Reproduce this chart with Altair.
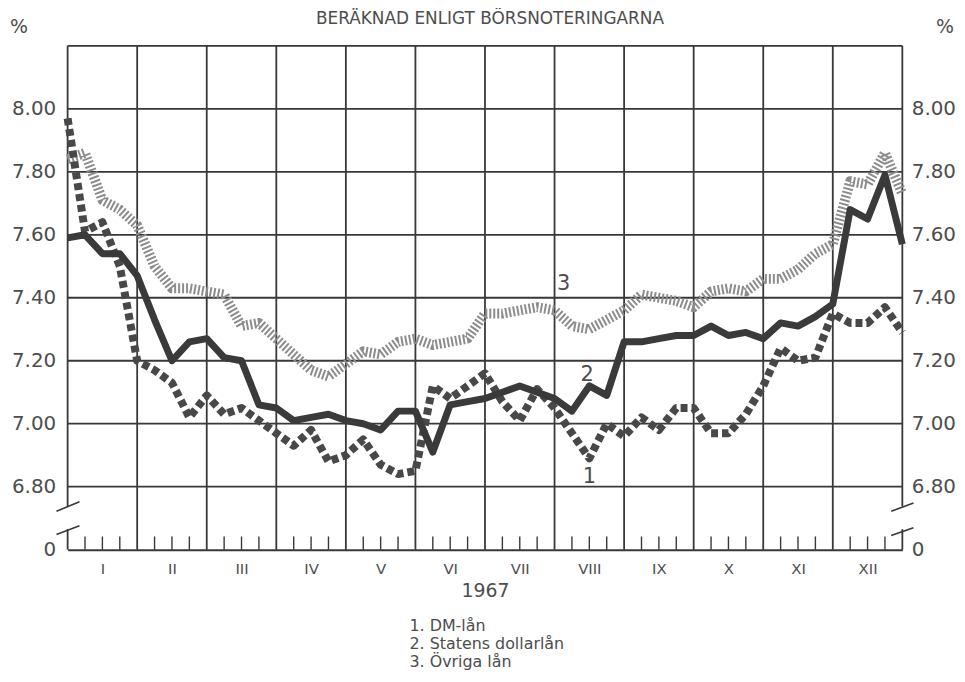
import altair as alt
import pandas as pd

# ---------------- data ----------------
title_text = ["BERÄKNAD ENLIGT BÖRSNOTERINGARNA"]
months = ["I", "II", "III", "IV", "V", "VI", "VII", "VIII", "IX", "X", "XI", "XII"]
year_label = "1967"
percent_label = ["%"]
legend_lines = ["1. DM-lån", "2. Statens dollarlån", "3. Övriga lån"]

# weekly observations, position in months (0 = start of January, 12 = end of December)
weeks = [i * 0.25 for i in range(49)]

# 1. DM-lån
dm_lan = [7.97, 7.61, 7.64, 7.50, 7.20, 7.17, 7.13, 7.02, 7.09, 7.03, 7.05, 7.01,
          6.97, 6.93, 6.98, 6.88, 6.90, 6.95, 6.87, 6.84, 6.85, 7.12, 7.08, 7.12,
          7.16, 7.07, 7.01, 7.11, 7.05, 6.97, 6.89, 7.00, 6.96, 7.02, 6.98, 7.05,
          7.05, 6.97, 6.97, 7.03, 7.12, 7.24, 7.20, 7.21, 7.35, 7.32, 7.32, 7.37,
          7.29]
# 2. Statens dollarlån
dollar_lan = [7.59, 7.60, 7.54, 7.54, 7.47, 7.33, 7.20, 7.26, 7.27, 7.21, 7.20, 7.06,
              7.05, 7.01, 7.02, 7.03, 7.01, 7.00, 6.98, 7.04, 7.04, 6.91, 7.06, 7.07,
              7.08, 7.10, 7.12, 7.10, 7.08, 7.04, 7.12, 7.09, 7.26, 7.26, 7.27, 7.28,
              7.28, 7.31, 7.28, 7.29, 7.27, 7.32, 7.31, 7.34, 7.38, 7.68, 7.65, 7.79,
              7.57]
# 3. Övriga lån
ovriga_lan = [7.84, 7.86, 7.71, 7.68, 7.63, 7.50, 7.43, 7.43, 7.42, 7.41, 7.31, 7.32,
              7.27, 7.22, 7.17, 7.15, 7.19, 7.23, 7.22, 7.26, 7.27, 7.25, 7.26, 7.27,
              7.35, 7.35, 7.36, 7.37, 7.36, 7.31, 7.30, 7.33, 7.36, 7.41, 7.40, 7.39,
              7.37, 7.42, 7.43, 7.42, 7.46, 7.46, 7.49, 7.54, 7.57, 7.77, 7.76, 7.86,
              7.73]

y_ticks = [6.6, 6.8, 7.0, 7.2, 7.4, 7.6, 7.8, 8.0]
grid_levels = [6.8, 7.0, 7.2, 7.4, 7.6, 7.8, 8.0, 8.2]
y_min, y_max = 6.6, 8.2

# in-chart series labels
label_txt = ["3", "2", "1"]
label_t = [7.13, 7.47, 7.50]
label_v = [7.445, 7.155, 6.83]

# ---------------- styling ----------------
ink = "#383838"
txt = "#4d4d4d"
FONT = "DejaVu Sans"

xs = alt.Scale(domain=[0, 12], nice=False, zero=False)
ys = alt.Scale(domain=[y_min, y_max], nice=False, zero=False)

df = pd.concat([
    pd.DataFrame({"t": weeks, "v": dm_lan, "s": "1"}),
    pd.DataFrame({"t": weeks, "v": dollar_lan, "s": "2"}),
    pd.DataFrame({"t": weeks, "v": ovriga_lan, "s": "3"}),
], ignore_index=True)

roman_expr = "[" + ",".join("'" + m + "'" for m in months) + "][floor(datum.value)]"

x_axis = alt.Axis(
    orient="bottom",
    values=[k + 0.5 for k in range(12)], labelExpr=roman_expr, ticks=False,
    domain=True, domainColor=ink, domainWidth=2, grid=False,
    labelPadding=12, labelFontSize=15, labelColor=txt, labelFont=FONT,
    title=year_label, titleFontSize=19, titleFontWeight="normal",
    titleColor=txt, titleFont=FONT, titlePadding=5,
)

def y_axis(orient, pad):
    return alt.Axis(
        orient=orient, values=y_ticks,
        labelExpr="datum.value < 6.7 ? '0' : format(datum.value, '.2f')",
        domain=False, ticks=False, grid=False, labelPadding=pad,
        labelFontSize=20, labelColor=txt, labelFont=FONT, title=None,
    )

# horizontal grid (incl. top frame) + right axis + x axis
hgrid = alt.Chart(pd.DataFrame({"y": grid_levels, "x0": 0.0, "x1": 12.0})).mark_rule(
    color=ink, strokeWidth=1.8
).encode(
    x=alt.X("x0:Q", scale=xs, axis=x_axis), x2="x1:Q",
    y=alt.Y("y:Q", scale=ys, axis=y_axis("right", 9)),
)

# vertical month lines; outer frame interrupted by the axis break
vt = list(range(1, 12)) + [0, 0, 12, 12]
vy0 = [y_min] * 11 + [y_min, 6.738, y_min, 6.738]
vy1 = [y_max] * 11 + [6.665, y_max, 6.665, y_max]
vgrid = alt.Chart(pd.DataFrame({"t": vt, "y0": vy0, "y1": vy1})).mark_rule(
    color=ink, strokeWidth=1.8
).encode(
    x=alt.X("t:Q", scale=xs, axis=None),
    y=alt.Y("y0:Q", scale=ys, axis=None), y2="y1:Q",
)

# weekly minor ticks on the baseline
minor_t = [k + f for k in range(12) for f in (0.25, 0.5, 0.75)]
minor = alt.Chart(pd.DataFrame({"t": minor_t, "y0": y_min, "y1": 6.642})).mark_rule(
    color=ink, strokeWidth=1.4
).encode(
    x=alt.X("t:Q", scale=xs, axis=None),
    y=alt.Y("y0:Q", scale=ys, axis=None), y2="y1:Q",
)

# axis break slashes
brk = pd.DataFrame({
    "x0": [-0.16, -0.16, 11.84, 11.84],
    "x1": [0.17, 0.17, 12.16, 12.16],
    "y0": [6.722, 6.648, 6.722, 6.645],
    "y1": [6.752, 6.676, 6.748, 6.670],
})
breaks = alt.Chart(brk).mark_rule(color=ink, strokeWidth=1.6).encode(
    x=alt.X("x0:Q", scale=xs, axis=None), x2="x1:Q",
    y=alt.Y("y0:Q", scale=ys, axis=None), y2="y1:Q",
)

def series_line(key, **style):
    return alt.Chart(df).transform_filter(f"datum.s == '{key}'").mark_line(**style).encode(
        x=alt.X("t:Q", scale=xs, axis=None),
        y=alt.Y("v:Q", scale=ys, axis=None),
        order="t:Q",
    )

line3 = series_line("3", color="#8c8c8c", strokeWidth=10, strokeDash=[2, 2],
                    strokeCap="butt", strokeJoin="round")
line1 = series_line("1", color="#484848", strokeWidth=8, strokeDash=[7, 4],
                    strokeCap="butt", strokeJoin="round")
line2 = alt.Chart(df).transform_filter("datum.s == '2'").mark_line(
    color="#3a3a3a", strokeWidth=7, strokeJoin="round"
).encode(
    x=alt.X("t:Q", scale=xs, axis=None),
    y=alt.Y("v:Q", scale=ys, axis=y_axis("left", 12)),
    order="t:Q",
)

labels = alt.Chart(pd.DataFrame({"t": label_t, "v": label_v, "lab": label_txt})).mark_text(
    font=FONT, fontSize=21, color=txt, align="center", baseline="middle"
).encode(
    x=alt.X("t:Q", scale=xs, axis=None),
    y=alt.Y("v:Q", scale=ys, axis=None),
    text="lab:N",
)

title = alt.Chart(pd.DataFrame({"lab": title_text})).mark_text(
    font=FONT, fontSize=17, color=txt, align="center", baseline="alphabetic"
).encode(x=alt.value(425), y=alt.value(-22), text="lab:N")

pct_left = alt.Chart(pd.DataFrame({"lab": percent_label})).mark_text(
    font=FONT, fontSize=19, color=txt, align="center", baseline="middle"
).encode(x=alt.value(-49), y=alt.value(-19), text="lab:N")

pct_right = alt.Chart(pd.DataFrame({"lab": percent_label})).mark_text(
    font=FONT, fontSize=19, color=txt, align="center", baseline="middle"
).encode(x=alt.value(883), y=alt.value(-19), text="lab:N")

legend = alt.Chart(pd.DataFrame({"k": [0]})).mark_text(
    font=FONT, fontSize=16, color=txt, align="left", baseline="top", lineHeight=18
).encode(x=alt.value(344), y=alt.value(576), text=alt.value(legend_lines))

chart = alt.layer(
    hgrid, vgrid, minor, breaks, line3, line1, line2, labels,
    title, pct_left, pct_right, legend,
).resolve_axis(x="independent", y="independent").properties(
    width=840, height=507,
    padding={"left": 60, "top": 36, "right": 55, "bottom": 119},
    autosize=alt.AutoSizeParams(type="none"),
    background="white",
).configure_view(stroke=None)

chart.save("out.html", embed_options={"renderer": "svg", "actions": False})
